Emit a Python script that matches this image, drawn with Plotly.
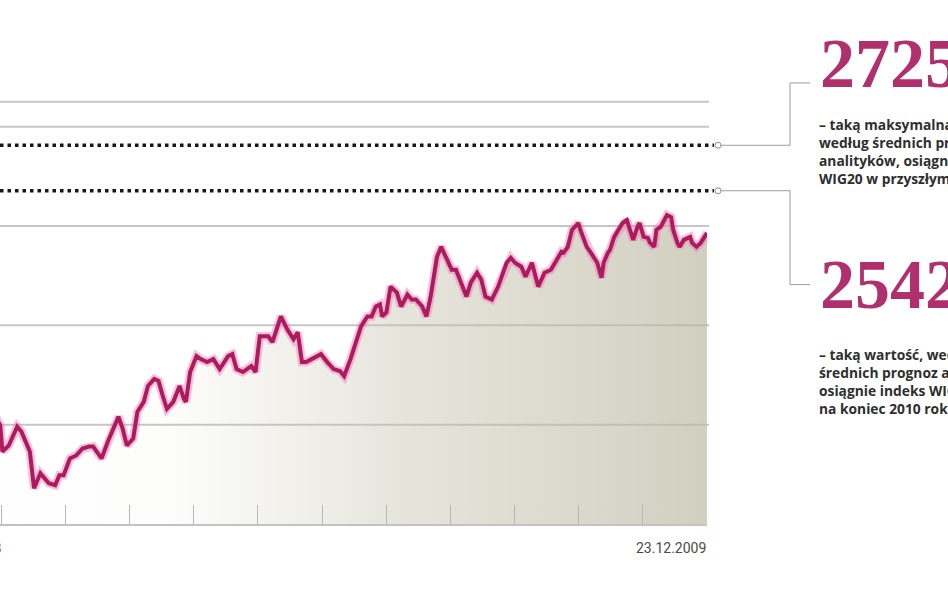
import pandas as pd
import plotly.graph_objects as go

# ---------------- data ----------------
start_date = "2008-12-23"
end_date = "2009-12-23"
end_label = "23.12.2009"
start_label = "23.12.2008"

days_since_start = [
    0, 7, 14, 20, 25, 28, 30, 31, 34, 38, 40, 44, 46, 48, 49, 53, 56, 58, 60, 63,
    66, 69, 72, 74, 78, 81, 83, 86, 88, 90, 93, 95, 98, 100, 103, 105, 107, 109, 112, 115,
    117, 118, 120, 123, 125, 128, 131, 134, 138, 140, 142, 145, 149, 151, 153, 157, 159, 163, 166, 169,
    171, 173, 175, 178, 182, 185, 188, 191, 193, 196, 198, 201, 204, 206, 208, 210, 211, 213, 215, 218,
    220, 223, 225, 227, 230, 232, 234, 237, 239, 241, 244, 246, 249, 251, 253, 256, 258, 260, 263, 265,
    266, 270, 272, 274, 277, 279, 282, 285, 288, 291, 294, 296, 297, 299, 301, 304, 305, 308, 310, 311,
    313, 315, 316, 318, 319, 321, 323, 324, 325, 327, 329, 330, 332, 333, 335, 337, 338, 340, 341, 343,
    344, 346, 348, 349, 351, 352, 354, 356, 357, 358, 360, 362, 363, 365,
]
wig20 = [
    1790, 1820, 1920, 1760, 1680, 1630, 1596, 1492, 1516, 1592, 1572, 1492, 1344, 1384, 1404, 1364, 1356, 1396, 1396, 1464,
    1476, 1504, 1512, 1512, 1464, 1532, 1572, 1632, 1584, 1516, 1544, 1652, 1692, 1756, 1784, 1776, 1716, 1664, 1692, 1756,
    1704, 1692, 1812, 1876, 1864, 1852, 1864, 1824, 1876, 1884, 1824, 1812, 1836, 1812, 1956, 1956, 1932, 2036, 1984, 1944,
    1972, 1852, 1852, 1864, 1884, 1852, 1824, 1816, 1796, 1864, 1916, 1996, 2036, 2036, 2076, 2084, 2036, 2052, 2156, 2132,
    2076, 2124, 2104, 2104, 2076, 2036, 2116, 2276, 2316, 2276, 2224, 2224, 2156, 2116, 2172, 2212, 2184, 2116, 2104, 2144,
    2156, 2252, 2272, 2252, 2236, 2196, 2252, 2156, 2212, 2224, 2264, 2296, 2292, 2316, 2384, 2412, 2384, 2316, 2292, 2276,
    2252, 2192, 2252, 2292, 2304, 2356, 2384, 2396, 2412, 2424, 2372, 2344, 2396, 2412, 2356, 2352, 2332, 2316, 2384, 2396,
    2412, 2444, 2436, 2384, 2332, 2316, 2344, 2352, 2356, 2332, 2316, 2332, 2344, 2372,
]

gridline_values = [1600, 2000, 2400, 2800, 2900]
axis_floor = 1200
axis_top = 3310

forecast_values = [2725, 2542]
forecast_numbers = ["2725", "2542"]
forecast_captions = [
    "– taką maksymalną wartość,<br>według średnich prognoz<br>analityków, osiągnie indeks<br>WIG20 w przyszłym roku",
    "– taką wartość, według<br>średnich prognoz analityków,<br>osiągnie indeks WIG20<br>na koniec 2010 roku",
]
# where each bracket elbow ends (index level)
bracket_end_values = [2976, 2164]

# ---------------- figure ----------------
W, H = 948, 593
PLOT_W, PLOT_H = 707, 524
start = pd.Timestamp(start_date)
dates = start + pd.to_timedelta(days_since_start, unit="D")
visible_from = start + pd.Timedelta(days=29.86)
tick_dates = [start + pd.Timedelta(days=365 * k / 12) for k in range(1, 12)]


def px(x):
    return x / PLOT_W


def py(y):
    return (PLOT_H - y) / PLOT_H


fig = go.Figure()

fig.add_trace(go.Scatter(
    x=[dates[0], dates[-1]], y=[axis_floor, axis_floor], mode="lines",
    line=dict(width=0, color="rgba(0,0,0,0)"), showlegend=False, hoverinfo="skip"))
fig.add_trace(go.Scatter(
    x=dates, y=wig20, mode="lines", fill="tonexty",
    line=dict(width=0, color="rgba(0,0,0,0)"),
    fillgradient=dict(type="horizontal", colorscale=[
        [0.0, "rgba(200,197,178,0)"],
        [0.3, "rgba(200,197,178,0.04)"],
        [0.6, "rgba(196,193,172,0.42)"],
        [1.0, "rgba(188,185,162,0.68)"],
    ]),
    showlegend=False, hoverinfo="skip"))
fig.add_trace(go.Scatter(
    x=dates, y=wig20, mode="lines",
    line=dict(width=8.5, color="rgba(238,120,180,0.45)"),
    showlegend=False, hoverinfo="skip"))
fig.add_trace(go.Scatter(
    x=dates, y=wig20, mode="lines",
    line=dict(width=4, color="#ad1a5e"),
    showlegend=False, name="WIG20"))

shapes = []
for v in gridline_values:
    shapes.append(dict(type="line", xref="paper", yref="y", x0=0, x1=px(709), y0=v, y1=v,
                       line=dict(color="#c6c6c6", width=2), layer="below"))
for v, vend in zip(forecast_values, bracket_end_values):
    shapes.append(dict(type="line", xref="paper", yref="y", x0=0, x1=px(714), y0=v, y1=v,
                       line=dict(color="#161616", width=3.5, dash="3.5px,4px"), layer="above"))
    shapes.append(dict(type="circle", xref="paper", yref="y", xsizemode="pixel", ysizemode="pixel",
                       xanchor=px(718), yanchor=v, x0=-3, x1=3, y0=-3, y1=3,
                       line=dict(color="#8a8a8a", width=1), fillcolor="white"))
    shapes.append(dict(type="path", xref="paper", yref="y",
                       path=f"M {px(721)},{v} L {px(790)},{v} L {px(790)},{vend} L {px(810)},{vend}",
                       line=dict(color="#9c9c9c", width=1)))

annotations = []
num_rows = [64, 284]
cap_rows = [113, 343]
for num, cap, ny, cy in zip(forecast_numbers, forecast_captions, num_rows, cap_rows):
    annotations.append(dict(xref="paper", yref="paper", x=px(818), y=py(ny), xanchor="left",
                            yanchor="middle", text="<b>" + num + "</b>", showarrow=False,
                            font=dict(family="Liberation Serif", size=70, color="#b0306d")))
    annotations.append(dict(xref="paper", yref="paper", x=px(817), y=py(cy), xanchor="left",
                            yanchor="top", text="<b>" + cap + "</b>", showarrow=False, align="left",
                            font=dict(family="Open Sans", size=13.8, color="#2e2e2e")))

annotations.append(dict(xref="paper", yref="paper", x=px(708), y=py(548), xanchor="right",
                        yanchor="middle", text=end_label, showarrow=False,
                        font=dict(family="Roboto", size=14, color="#4a4a4a")))
annotations.append(dict(xref="paper", yref="paper", x=px(3), y=py(548), xanchor="right",
                        yanchor="middle", text=start_label, showarrow=False,
                        font=dict(family="Roboto", size=14, color="#4a4a4a")))

fig.update_layout(
    width=W, height=H,
    margin=dict(l=0, r=W - PLOT_W, t=0, b=H - PLOT_H),
    paper_bgcolor="white", plot_bgcolor="white",
    showlegend=False,
    xaxis=dict(type="date", range=[visible_from, pd.Timestamp(end_date)], showgrid=False,
               zeroline=False, showline=True, linecolor="#c2c2c2", linewidth=2,
               ticks="inside", ticklen=19, tickwidth=1, tickcolor="#b8b8b8",
               tickvals=tick_dates, showticklabels=False),
    yaxis=dict(range=[axis_floor, axis_top], visible=False, showgrid=False, zeroline=False),
    shapes=shapes,
    annotations=annotations,
)

fig.write_html("out.html", config={"displayModeBar": False},
               post_script="document.body.style.margin='0px';")
